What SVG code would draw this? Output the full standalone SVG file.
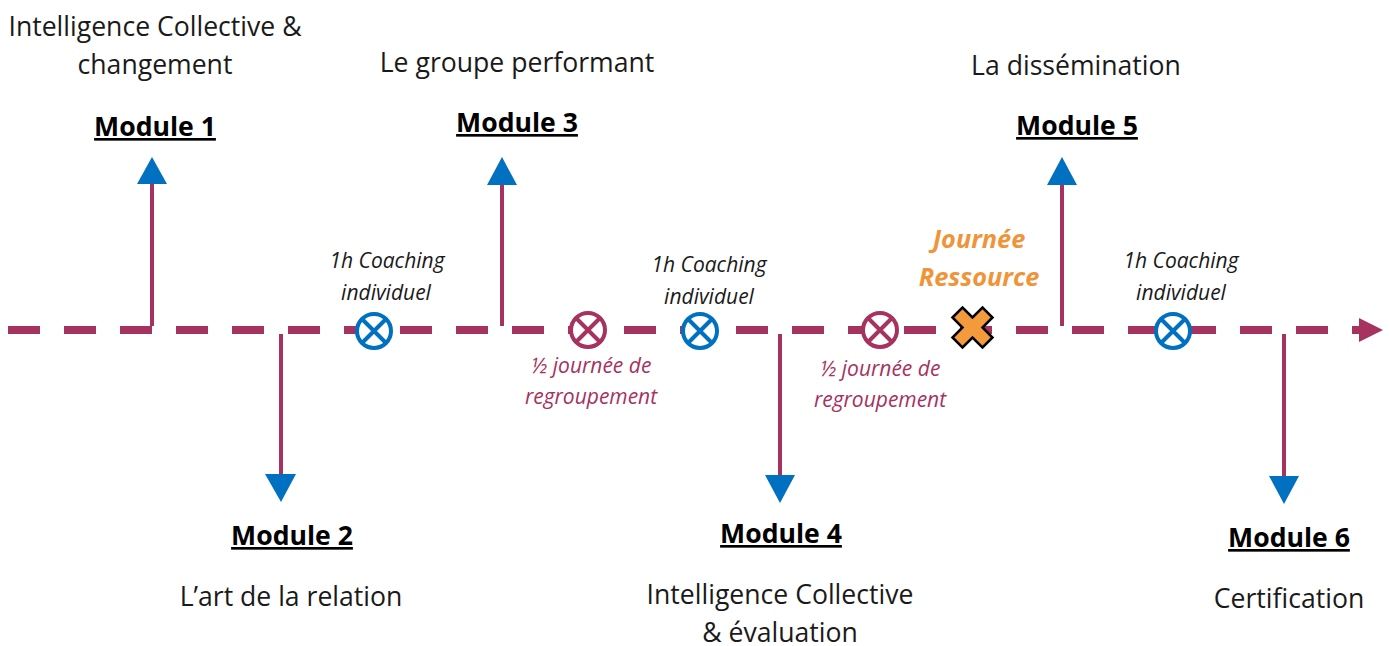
<svg xmlns="http://www.w3.org/2000/svg" width="1389" height="646" viewBox="0 0 1389 646">
<style>
.t{font-family:"Open Sans","Liberation Sans",sans-serif;font-size:26.6px;fill:#1a1a1a;text-anchor:middle}
.m{font-family:"Open Sans","Liberation Sans",sans-serif;font-size:26.6px;font-weight:bold;fill:#000;text-anchor:middle;text-decoration:underline}
.c{font-family:"Open Sans","Liberation Sans",sans-serif;font-size:21px;font-style:italic;fill:#1a1a1a;text-anchor:middle}
.r{font-family:"Open Sans","Liberation Sans",sans-serif;font-size:21px;font-style:italic;fill:#A5325F;text-anchor:middle}
.j{font-family:"Open Sans","Liberation Sans",sans-serif;font-size:25.3px;font-style:italic;font-weight:bold;fill:#F0943A;text-anchor:middle}
.stem{stroke:#A5325F;stroke-width:4;fill:none}
.head{fill:#0070C0}
.bc{fill:#fff;stroke:#0070C0;stroke-width:4}
.rc{fill:#fff;stroke:#A5325F;stroke-width:4}
</style>
<g id="connectors">
<line x1="8" y1="330" x2="1361" y2="330" stroke="#A5325F" stroke-width="8" stroke-dasharray="32 24"/>
<polygon points="1359,318 1383,330 1359,342" fill="#A5325F"/>
<line class="stem" x1="152" y1="326" x2="152" y2="182"/>
<polygon class="head" points="137,184 167,184 152,157"/>
<line class="stem" x1="502" y1="326" x2="502" y2="182"/>
<polygon class="head" points="487,185 517,185 502,157"/>
<line class="stem" x1="1062" y1="326" x2="1062" y2="182"/>
<polygon class="head" points="1047,185 1077,185 1062,157"/>
<line class="stem" x1="281" y1="334" x2="281" y2="476"/>
<polygon class="head" points="265,474 296,474 281,502"/>
<line class="stem" x1="780" y1="334" x2="780" y2="476"/>
<polygon class="head" points="765,475 795,475 780,503"/>
<line class="stem" x1="1284" y1="334" x2="1284" y2="478"/>
<polygon class="head" points="1269,476 1299,476 1284,504"/>
</g>
<g id="coaching1"><circle class="bc" cx="374" cy="331" r="17"/><path d="M362,319 L386,343 M386,319 L362,343" stroke="#0070C0" stroke-width="4"/>
<text class="c" x="387" y="268">1h Coaching</text><text class="c" x="386" y="300">individuel</text></g>
<g id="coaching2"><circle class="bc" cx="700" cy="331" r="17"/><path d="M688,319 L712,343 M712,319 L688,343" stroke="#0070C0" stroke-width="4"/>
<text class="c" x="709" y="272">1h Coaching</text><text class="c" x="709" y="304">individuel</text></g>
<g id="coaching3"><circle class="bc" cx="1173" cy="331" r="17"/><path d="M1161,319 L1185,343 M1185,319 L1161,343" stroke="#0070C0" stroke-width="4"/>
<text class="c" x="1181" y="268">1h Coaching</text><text class="c" x="1181" y="300">individuel</text></g>
<g id="regroup1"><circle class="rc" cx="588" cy="330" r="17"/><path d="M576,318 L600,342 M600,318 L576,342" stroke="#A5325F" stroke-width="4"/>
<text class="r" x="591" y="373">½ journée de</text><text class="r" x="591" y="404">regroupement</text></g>
<g id="regroup2"><circle class="rc" cx="880" cy="330" r="17"/><path d="M868,318 L892,342 M892,318 L868,342" stroke="#A5325F" stroke-width="4"/>
<text class="r" x="880" y="376">½ journée de</text><text class="r" x="880" y="407">regroupement</text></g>
<g id="ressource"><polygon points="952.5,317.5 962.5,307.5 972.5,317.5 982.5,307.5 992.5,317.5 982.5,327.5 992.5,337.5 982.5,347.5 972.5,337.5 962.5,347.5 952.5,337.5 962.5,327.5" fill="#F39A3C" stroke="#000" stroke-width="2.5" stroke-linejoin="miter"/>
<text class="j" x="979" y="248">Journée</text><text class="j" x="979" y="286">Ressource</text></g>
<g id="module1"><text class="t" x="155" y="36">Intelligence Collective &amp;</text><text class="t" x="155" y="74">changement</text><text class="m" x="155" y="136">Module 1</text></g>
<g id="module3"><text class="t" x="517" y="72">Le groupe performant</text><text class="m" x="517" y="132">Module 3</text></g>
<g id="module5"><text class="t" x="1076" y="75">La dissémination</text><text class="m" x="1077" y="135">Module 5</text></g>
<g id="module2"><text class="m" x="292" y="545">Module 2</text><text class="t" x="291" y="606">L’art de la relation</text></g>
<g id="module4"><text class="m" x="781" y="543">Module 4</text><text class="t" x="780" y="604">Intelligence Collective</text><text class="t" x="780" y="642">&amp; évaluation</text></g>
<g id="module6"><text class="m" x="1289" y="547">Module 6</text><text class="t" x="1289" y="608">Certification</text></g>
</svg>
